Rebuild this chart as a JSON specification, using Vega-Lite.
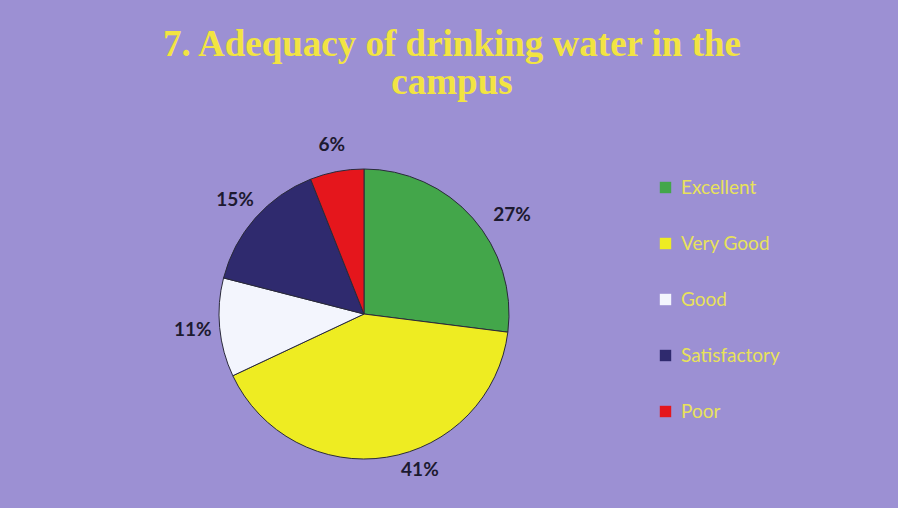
{
  "$schema": "https://vega.github.io/schema/vega-lite/v6.json",
  "autosize": "none",
  "width": 400,
  "height": 360,
  "padding": {"left": 164, "top": 134, "right": 334, "bottom": 14},
  "background": "#9c90d3",
  "title": {
    "text": ["7. Adequacy of drinking water in the", "campus"],
    "font": "Liberation Serif",
    "fontSize": 37,
    "fontWeight": "bold",
    "color": "#f2e442",
    "lineHeight": 38,
    "anchor": "middle",
    "dx": 88,
    "offset": 20
  },
  "data": {
    "values": [
      {"rank": 1, "category": "Excellent", "value": 27, "label": "27%"},
      {"rank": 2, "category": "Very Good", "value": 41, "label": "41%"},
      {"rank": 3, "category": "Good", "value": 11, "label": "11%"},
      {"rank": 4, "category": "Satisfactory", "value": 15, "label": "15%"},
      {"rank": 5, "category": "Poor", "value": 6, "label": "6%"}
    ]
  },
  "encoding": {
    "theta": {"field": "value", "type": "quantitative", "stack": true},
    "order": {"field": "rank", "type": "quantitative", "sort": "ascending"}
  },
  "layer": [
    {
      "mark": {"type": "arc", "outerRadius": 145, "stroke": "#2a2a3a", "strokeWidth": 1},
      "encoding": {
        "color": {
          "field": "category",
          "type": "nominal",
          "sort": ["Excellent", "Very Good", "Good", "Satisfactory", "Poor"],
          "scale": {
            "domain": ["Excellent", "Very Good", "Good", "Satisfactory", "Poor"],
            "range": ["#43a64a", "#eeec22", "#f3f5fd", "#2f2a6e", "#e5161c"]
          },
          "legend": {
            "title": null,
            "orient": "none",
            "legendX": 492,
            "legendY": 44,
            "symbolType": "square",
            "symbolSize": 130,
            "symbolStrokeWidth": 0,
            "labelFont": "Lato",
            "labelFontSize": 19,
            "labelColor": "#e8e25a",
            "rowPadding": 36,
            "labelOffset": 6
          }
        }
      }
    },
    {
      "mark": {"type": "text", "radius": 172, "font": "Lato", "fontWeight": "bold", "fontSize": 19, "color": "#1d1a30"},
      "encoding": {"text": {"condition": {"test": "datum.rank > 2", "field": "label"}, "value": ""}}
    },
    {
      "mark": {"type": "text", "radius": 172, "dx": 19, "dy": 15, "font": "Lato", "fontWeight": "bold", "fontSize": 19, "color": "#1d1a30"},
      "encoding": {"text": {"condition": {"test": "datum.rank == 1", "field": "label"}, "value": ""}}
    },
    {
      "mark": {"type": "text", "radius": 172, "dx": 29, "dy": -14, "font": "Lato", "fontWeight": "bold", "fontSize": 19, "color": "#1d1a30"},
      "encoding": {"text": {"condition": {"test": "datum.rank == 2", "field": "label"}, "value": ""}}
    }
  ]
}
